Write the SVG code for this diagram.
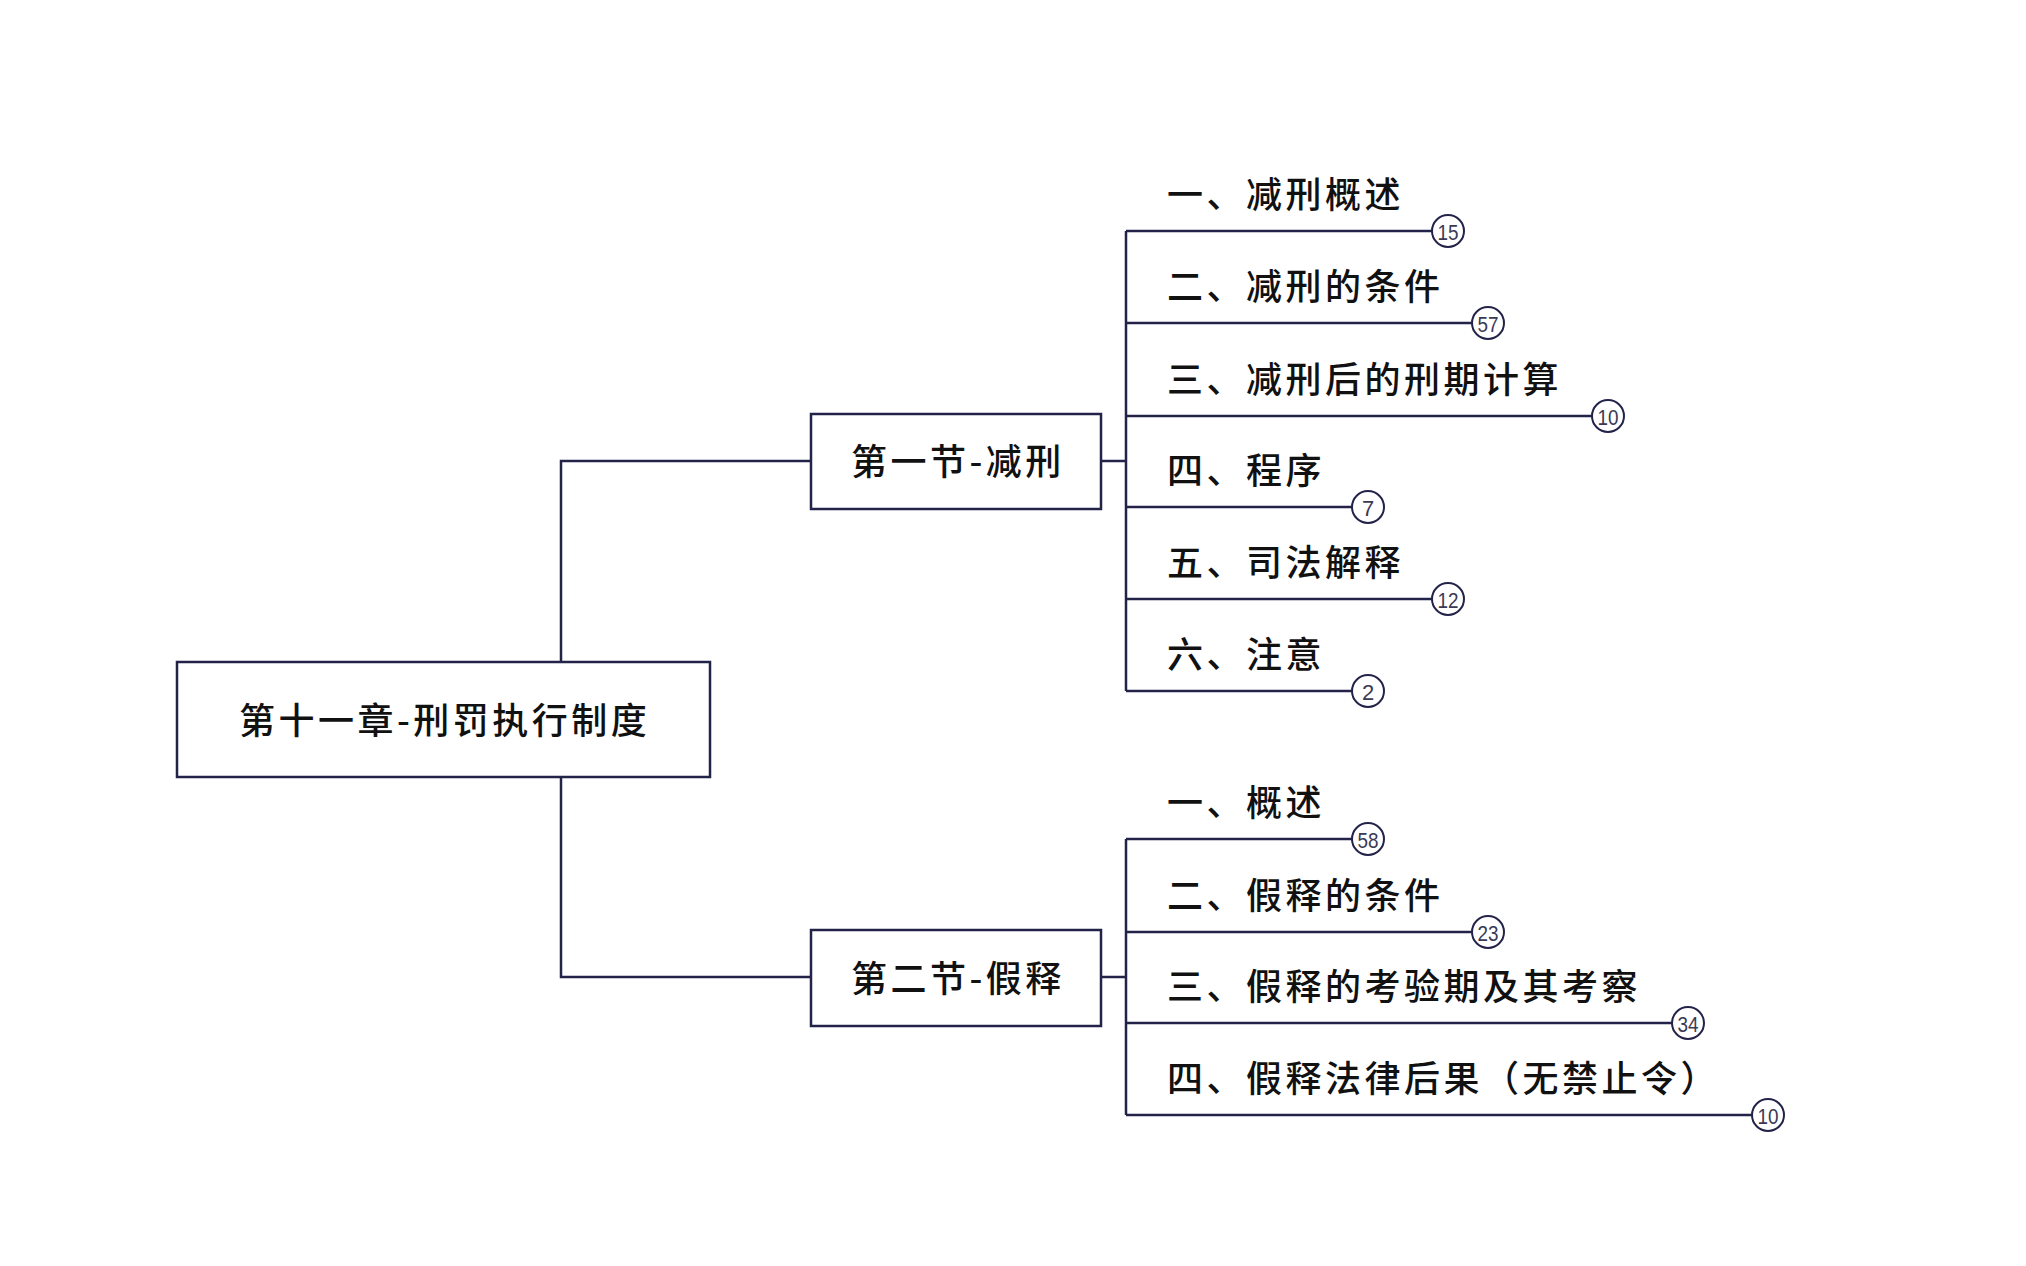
<svg xmlns="http://www.w3.org/2000/svg" width="2026" height="1266" viewBox="0 0 2026 1266">
<style>
.box{fill:#ffffff;stroke:#23234a;stroke-width:2.5}
.ln{fill:none;stroke:#23234a;stroke-width:2.5}
.t{font-family:"Noto Sans CJK SC","Noto Sans CJK TC",sans-serif;font-size:36px;font-weight:500;fill:#111111;letter-spacing:3.5px;dominant-baseline:central}
.bd circle{fill:#ffffff;stroke:#23234a;stroke-width:2}
.bd text{font-family:"Liberation Sans",Arial,sans-serif;font-size:22px;fill:#3a3a55;text-anchor:middle;dominant-baseline:central}
</style>
<rect width="2026" height="1266" fill="#ffffff"/>
<g id="connectors">
<path class="ln" d="M561 662V461H811"/>
<path class="ln" d="M561 777V977H811"/>
<path class="ln" d="M1101 461H1126M1126 231V691"/>
<path class="ln" d="M1126 231H1432M1126 323H1472M1126 416H1592M1126 507H1352M1126 599H1432M1126 691H1352"/>
<path class="ln" d="M1101 977H1126M1126 839V1115"/>
<path class="ln" d="M1126 839H1352M1126 932H1472M1126 1023H1672M1126 1115H1752"/>
</g>
<g id="root"><rect class="box" x="177" y="662" width="533" height="115"/><text class="t" x="239" y="718">第十一章-刑罚执行制度</text></g>
<g id="sec1"><rect class="box" x="811" y="414" width="290" height="95"/><text class="t" x="851" y="459">第一节-减刑</text></g>
<g id="sec2"><rect class="box" x="811" y="930" width="290" height="96"/><text class="t" x="851" y="976">第二节-假释</text></g>
<g id="s1i1"><text class="t" x="1167" y="192">一、减刑概述</text><g class="bd"><circle cx="1448" cy="231" r="16"/><text x="1448" y="232" textLength="21" lengthAdjust="spacingAndGlyphs">15</text></g></g>
<g id="s1i2"><text class="t" x="1167" y="284">二、减刑的条件</text><g class="bd"><circle cx="1488" cy="323" r="16"/><text x="1488" y="324" textLength="21" lengthAdjust="spacingAndGlyphs">57</text></g></g>
<g id="s1i3"><text class="t" x="1167" y="377">三、减刑后的刑期计算</text><g class="bd"><circle cx="1608" cy="416" r="16"/><text x="1608" y="417" textLength="21" lengthAdjust="spacingAndGlyphs">10</text></g></g>
<g id="s1i4"><text class="t" x="1167" y="468">四、程序</text><g class="bd"><circle cx="1368" cy="507" r="16"/><text x="1368" y="508">7</text></g></g>
<g id="s1i5"><text class="t" x="1167" y="560">五、司法解释</text><g class="bd"><circle cx="1448" cy="599" r="16"/><text x="1448" y="600" textLength="21" lengthAdjust="spacingAndGlyphs">12</text></g></g>
<g id="s1i6"><text class="t" x="1167" y="652">六、注意</text><g class="bd"><circle cx="1368" cy="691" r="16"/><text x="1368" y="692">2</text></g></g>
<g id="s2i1"><text class="t" x="1167" y="800">一、概述</text><g class="bd"><circle cx="1368" cy="839" r="16"/><text x="1368" y="840" textLength="21" lengthAdjust="spacingAndGlyphs">58</text></g></g>
<g id="s2i2"><text class="t" x="1167" y="893">二、假释的条件</text><g class="bd"><circle cx="1488" cy="932" r="16"/><text x="1488" y="933" textLength="21" lengthAdjust="spacingAndGlyphs">23</text></g></g>
<g id="s2i3"><text class="t" x="1167" y="984">三、假释的考验期及其考察</text><g class="bd"><circle cx="1688" cy="1023" r="16"/><text x="1688" y="1024" textLength="21" lengthAdjust="spacingAndGlyphs">34</text></g></g>
<g id="s2i4"><text class="t" x="1167" y="1076">四、假释法律后果（无禁止令）</text><g class="bd"><circle cx="1768" cy="1115" r="16"/><text x="1768" y="1116" textLength="21" lengthAdjust="spacingAndGlyphs">10</text></g></g>
</svg>
